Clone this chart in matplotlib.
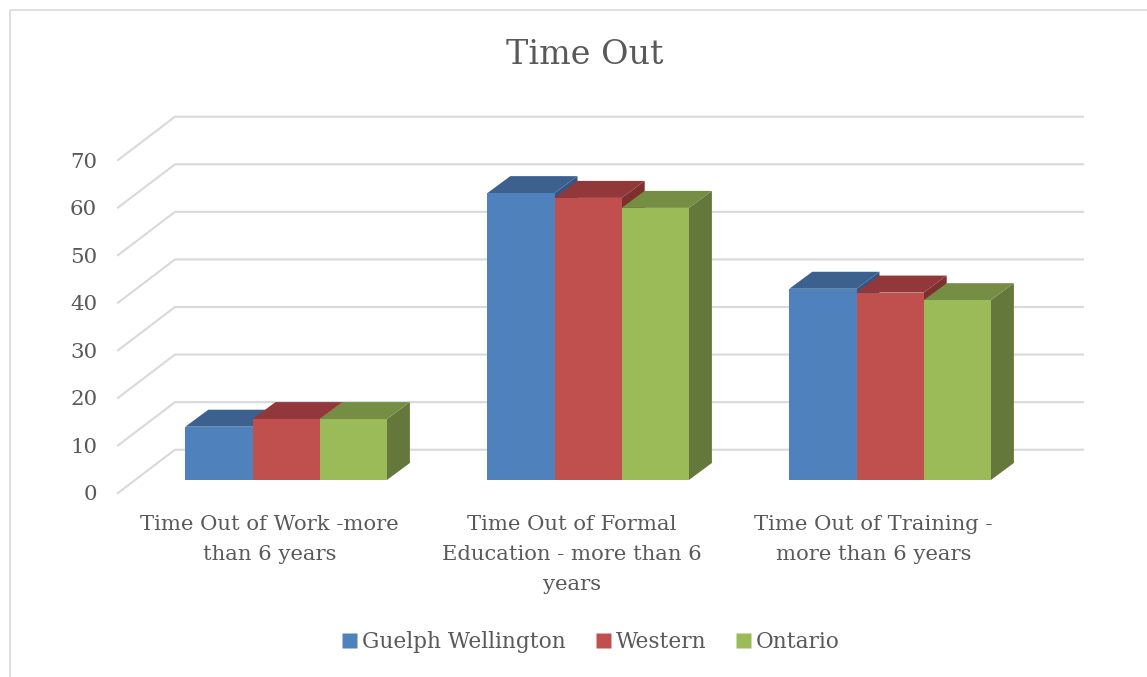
import matplotlib
matplotlib.use("Agg")
import matplotlib.pyplot as plt
from matplotlib.patches import Polygon
from matplotlib.lines import Line2D

categories = ["Time Out of Work -more\nthan 6 years",
              "Time Out of Formal\nEducation - more than 6\nyears",
              "Time Out of Training -\nmore than 6 years"]
guelph_wellington = [11.2, 60.3, 40.2]
western = [12.8, 59.3, 39.4]
ontario = [12.8, 57.2, 37.8]
series_names = ["Guelph Wellington", "Western", "Ontario"]
y_ticks = [0, 10, 20, 30, 40, 50, 60, 70]

W, H = 1147, 677
TEXT = "#595959"
GRID = "#d9d9d9"
FONT = "DejaVu Serif"
front = ["#4f81bd", "#c0504d", "#9bbb59"]
top = ["#3c618f", "#92383a", "#758e43"]
side = ["#355680", "#7f2f2d", "#65783b"]

fig = plt.figure(figsize=(W / 100, H / 100), dpi=100, facecolor="white")
L, R, T, B = 118, 1083, 160, 493
ax = fig.add_axes([L / W, 1 - B / H, (R - L) / W, (B - T) / H])
PX_X = 302.0
PX_Y = (B - T) / 70
X0 = 185.3
ax.set_xlim((L - X0) / PX_X, (R - X0) / PX_X)
ax.set_ylim(0, 70)
ax.patch.set_visible(False)
for s in ax.spines.values():
    s.set_visible(False)

wall_dx, wall_dy = 57 / PX_X, 43.3 / PX_Y
bar_dx, bar_dy = 23 / PX_X, 17 / PX_Y
floor = (B - 480) / PX_Y
bar_w = 67.2 / PX_X
x_left = (L - X0) / PX_X
x_right = (R - X0) / PX_X

for v in y_ticks:
    ax.plot([x_left, x_left + wall_dx, x_right], [v, v + wall_dy, v + wall_dy],
            color=GRID, lw=1.5, clip_on=False, zorder=1, solid_joinstyle="miter")

z = 2
for g in range(len(categories)):
    for k, values in enumerate([guelph_wellington, western, ontario]):
        x0 = g + k * bar_w
        x1 = x0 + bar_w
        y0 = floor
        y1 = floor + values[g]
        ax.add_patch(Polygon([(x1, y0), (x1 + bar_dx, y0 + bar_dy), (x1 + bar_dx, y1 + bar_dy), (x1, y1)],
                             fc=side[k], ec="none", clip_on=False, zorder=z))
        ax.add_patch(Polygon([(x0, y1), (x0 + bar_dx, y1 + bar_dy), (x1 + bar_dx, y1 + bar_dy), (x1, y1)],
                             fc=top[k], ec="none", clip_on=False, zorder=z))
        ax.bar(x0, values[g], width=bar_w, bottom=y0, align="edge", color=front[k],
               clip_on=False, zorder=z + 0.5)
        z += 1

ax.set_yticks(y_ticks)
ax.set_yticklabels([str(v) for v in y_ticks], fontsize=15.4, color=TEXT, family=FONT)
ax.tick_params(axis="y", length=0, pad=15)
label_shift = 16.5 / PX_X
ax.set_xticks([g + 1.5 * bar_w - label_shift for g in range(len(categories))])
ax.set_xticklabels(categories, fontsize=15.2, color=TEXT, family=FONT, linespacing=1.75)
ax.tick_params(axis="x", length=0, pad=15.5)

fig.text(585 / W, 1 - 55 / H, "Time Out", ha="center", va="center",
         fontsize=24, color=TEXT, family=FONT)

handles = [Line2D([], [], ls="none", marker="s", ms=10.8, mfc=c, mec="none") for c in front]
fig.legend(handles, series_names, loc="center", bbox_to_anchor=(589 / W, 1 - 642 / H), ncol=3,
           frameon=False, prop={"family": FONT, "size": 15.55}, labelcolor=TEXT,
           handletextpad=0.1, columnspacing=1.22, handlelength=1.0)

fig.add_artist(Line2D([9.5 / W, 9.5 / W, 1], [0, 1 - 10 / H, 1 - 10 / H], color=GRID, lw=1.2))

fig.savefig("out.png", dpi=100, facecolor="white")
